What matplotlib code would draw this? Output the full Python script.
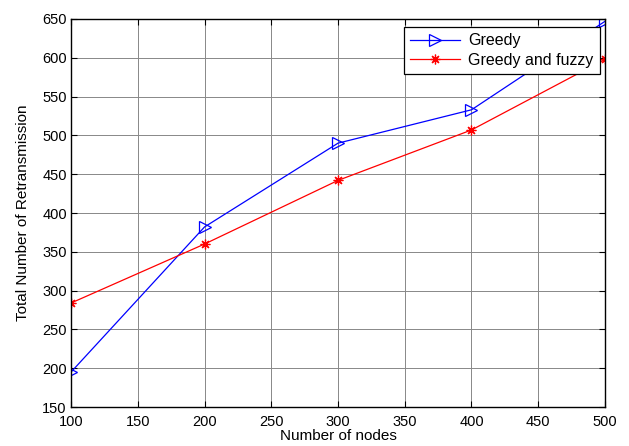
import matplotlib
matplotlib.use("Agg")
import matplotlib.pyplot as plt

nodes = [100, 200, 300, 400, 500]
greedy = [195, 382, 490, 533, 647]
greedy_fuzzy = [284, 360, 442, 507, 598]
xticks = [100, 150, 200, 250, 300, 350, 400, 450, 500]
yticks = [150, 200, 250, 300, 350, 400, 450, 500, 550, 600, 650]

plt.rcParams['font.family'] = ['Liberation Sans', 'DejaVu Sans']

fig = plt.figure(figsize=(6.29, 4.46), dpi=100)
ax = fig.add_axes([0.1129, 0.0874, 0.8489, 0.8700])

ax.plot(nodes, greedy, color='blue', lw=0.9, marker='>', markersize=8,
        markerfacecolor='none', markeredgecolor='blue', markeredgewidth=0.9, label='Greedy')
ax.plot(nodes, greedy_fuzzy, color='red', lw=0.9, marker=(8, 2, 0), markersize=7,
        markerfacecolor='none', markeredgecolor='red', markeredgewidth=0.9, label='Greedy and fuzzy')

ax.set_xlim(100, 500)
ax.set_ylim(150, 650)
ax.set_xticks(xticks)
ax.set_yticks(yticks)
ax.tick_params(direction='in', length=4, labelsize=10.5, colors='black', pad=3)
ax.tick_params(axis='x', pad=5.5)
ax.tick_params(top=True, right=True)
ax.grid(True, color='#888888', lw=0.7, ls='-')
ax.set_axisbelow(True)
for s in ax.spines.values():
    s.set_linewidth(1.0)
    s.set_color('black')

ax.set_xlabel('Number of nodes', fontsize=11, labelpad=0.5)
ax.set_ylabel('Total Number of Retransmission', fontsize=11, labelpad=9)

leg = ax.legend(loc='upper right', bbox_to_anchor=(0.99, 0.98), fontsize=11.5,
                fancybox=False, framealpha=1, edgecolor='black', handlelength=3.1,
                borderpad=0.4, labelspacing=0.3, handletextpad=0.5, borderaxespad=0)
leg.get_frame().set_linewidth(0.9)

fig.savefig('out.png', dpi=100)
